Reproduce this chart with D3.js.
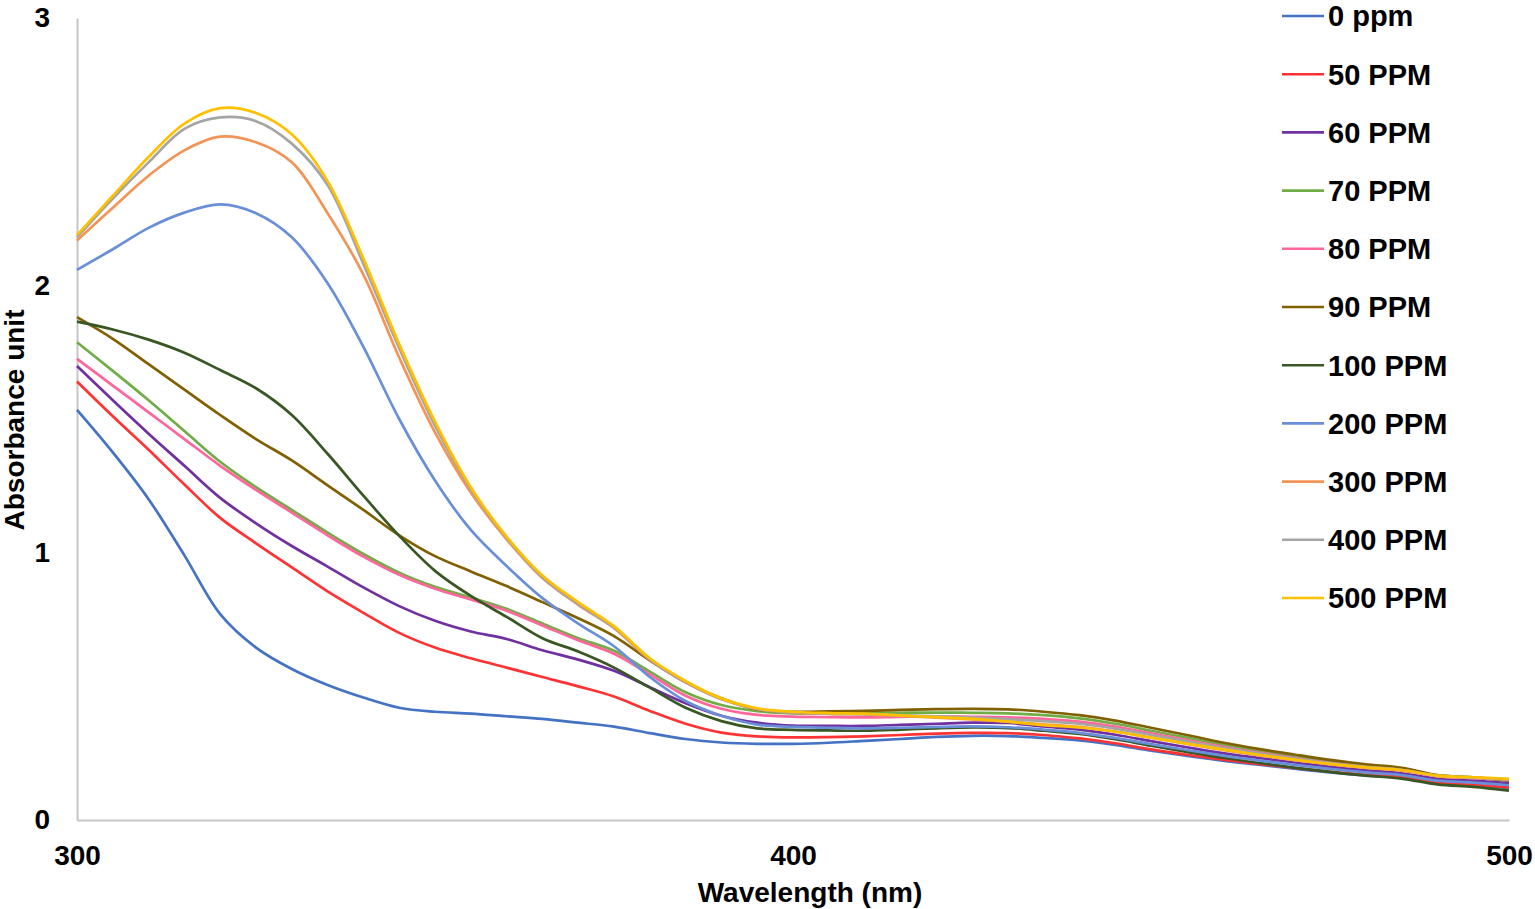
<!DOCTYPE html>
<html>
<head>
<meta charset="utf-8">
<script src="https://cdn.jsdelivr.net/npm/d3@7"></script>
<style>
  body { margin: 0; background: #fff; }
  svg { display: block; font-family: "Liberation Sans", Arial, sans-serif; }
</style>
</head>
<body>
<svg></svg>
<script>
// wavelengths (nm) and absorbance
let wavelengths = [300, 305, 310, 315, 320, 325, 330, 335, 340, 345, 350, 355, 360, 365, 370, 375, 380, 385, 390, 395, 400,
                   405, 410, 415, 420, 425, 430, 435, 440, 445, 450, 455, 460, 465, 470, 475, 480, 485, 490, 495, 500]

let ppm0 = [1.534, 1.375, 1.200, 0.990, 0.770, 0.645, 0.565, 0.505, 0.458, 0.420, 0.405, 0.398, 0.388, 0.378, 0.364, 0.349, 0.325, 0.303, 0.290, 0.285, 0.285,
            0.289, 0.296, 0.303, 0.311, 0.315, 0.314, 0.307, 0.298, 0.281, 0.259, 0.240, 0.222, 0.207, 0.192, 0.178, 0.167, 0.158, 0.138, 0.130, 0.120]
let ppm50 = [1.640, 1.510, 1.385, 1.255, 1.130, 1.035, 0.945, 0.855, 0.775, 0.700, 0.645, 0.605, 0.570, 0.535, 0.500, 0.462, 0.408, 0.360, 0.327, 0.313, 0.309,
             0.310, 0.313, 0.318, 0.323, 0.326, 0.325, 0.318, 0.305, 0.287, 0.264, 0.244, 0.226, 0.210, 0.195, 0.181, 0.169, 0.160, 0.140, 0.132, 0.122]
let ppm60 = [1.698, 1.570, 1.445, 1.325, 1.205, 1.110, 1.025, 0.948, 0.870, 0.800, 0.745, 0.705, 0.677, 0.635, 0.600, 0.558, 0.497, 0.437, 0.390, 0.364, 0.353,
             0.352, 0.352, 0.356, 0.360, 0.364, 0.363, 0.350, 0.338, 0.319, 0.295, 0.272, 0.250, 0.232, 0.215, 0.199, 0.186, 0.175, 0.154, 0.147, 0.138]
let ppm70 = [1.787, 1.680, 1.570, 1.455, 1.340, 1.245, 1.160, 1.075, 0.995, 0.925, 0.872, 0.832, 0.790, 0.735, 0.680, 0.633, 0.555, 0.478, 0.430, 0.407, 0.399,
             0.398, 0.399, 0.401, 0.402, 0.401, 0.399, 0.392, 0.380, 0.360, 0.334, 0.308, 0.282, 0.258, 0.238, 0.219, 0.203, 0.190, 0.166, 0.158, 0.147]
let ppm80 = [1.725, 1.625, 1.525, 1.425, 1.325, 1.235, 1.150, 1.065, 0.985, 0.917, 0.865, 0.825, 0.783, 0.728, 0.672, 0.622, 0.545, 0.465, 0.416, 0.393, 0.387,
             0.385, 0.384, 0.386, 0.387, 0.386, 0.384, 0.378, 0.368, 0.349, 0.324, 0.299, 0.274, 0.252, 0.232, 0.214, 0.199, 0.187, 0.164, 0.157, 0.148]
let ppm90 = [1.881, 1.800, 1.705, 1.610, 1.515, 1.425, 1.345, 1.252, 1.160, 1.065, 0.987, 0.930, 0.875, 0.815, 0.755, 0.688, 0.597, 0.515, 0.455, 0.414, 0.405,
             0.406, 0.408, 0.412, 0.415, 0.416, 0.414, 0.405, 0.392, 0.372, 0.345, 0.318, 0.290, 0.266, 0.245, 0.225, 0.208, 0.195, 0.168, 0.160, 0.148]
let ppm100 = [1.864, 1.835, 1.797, 1.748, 1.683, 1.615, 1.515, 1.370, 1.213, 1.063, 0.932, 0.838, 0.760, 0.680, 0.630, 0.570, 0.495, 0.420, 0.370, 0.343, 0.337,
              0.335, 0.334, 0.338, 0.343, 0.346, 0.344, 0.334, 0.322, 0.302, 0.278, 0.255, 0.233, 0.214, 0.196, 0.180, 0.166, 0.155, 0.133, 0.124, 0.110]
let ppm200 = [2.058, 2.135, 2.215, 2.272, 2.303, 2.270, 2.180, 2.008, 1.770, 1.500, 1.270, 1.085, 0.950, 0.830, 0.735, 0.650, 0.535, 0.445, 0.390, 0.357, 0.348,
              0.345, 0.343, 0.345, 0.348, 0.350, 0.347, 0.338, 0.326, 0.307, 0.284, 0.262, 0.241, 0.223, 0.206, 0.191, 0.178, 0.168, 0.147, 0.140, 0.130]
let ppm300 = [2.168, 2.290, 2.410, 2.505, 2.556, 2.535, 2.460, 2.270, 2.040, 1.730, 1.450, 1.225, 1.050, 0.905, 0.805, 0.718, 0.600, 0.515, 0.452, 0.415, 0.402,
              0.397, 0.395, 0.389, 0.383, 0.376, 0.368, 0.358, 0.348, 0.331, 0.308, 0.285, 0.262, 0.242, 0.224, 0.208, 0.195, 0.185, 0.164, 0.158, 0.152]
let ppm400 = [2.180, 2.325, 2.460, 2.585, 2.628, 2.614, 2.530, 2.375, 2.080, 1.765, 1.475, 1.238, 1.055, 0.908, 0.808, 0.720, 0.602, 0.516, 0.453, 0.416, 0.403,
              0.398, 0.396, 0.392, 0.388, 0.383, 0.377, 0.370, 0.360, 0.342, 0.318, 0.294, 0.270, 0.249, 0.230, 0.213, 0.199, 0.188, 0.166, 0.159, 0.151]
let ppm500 = [2.188, 2.335, 2.480, 2.605, 2.663, 2.645, 2.565, 2.390, 2.100, 1.780, 1.490, 1.245, 1.060, 0.915, 0.815, 0.725, 0.605, 0.520, 0.455, 0.418, 0.405,
              0.400, 0.398, 0.391, 0.385, 0.378, 0.368, 0.355, 0.346, 0.330, 0.308, 0.286, 0.264, 0.244, 0.226, 0.210, 0.197, 0.187, 0.166, 0.160, 0.154]

let seriesNames = ["0 ppm", "50 PPM", "60 PPM", "70 PPM", "80 PPM", "90 PPM", "100 PPM", "200 PPM", "300 PPM", "400 PPM", "500 PPM"]
let seriesValues = [ppm0, ppm50, ppm60, ppm70, ppm80, ppm90, ppm100, ppm200, ppm300, ppm400, ppm500]
let xTicks = [300, 400, 500]
let yTicks = [0, 1, 2, 3]

let colors = ["#4472C4", "#FF3333", "#7030A0", "#70AD47", "#FF6699", "#806000", "#385723", "#6A8FD9", "#F39456", "#A5A5A5", "#FFC000"]

let width = 1535
let height = 909
let plotLeft = 77, plotRight = 1509, plotTop = 18, plotBottom = 820

let svg = d3.select('svg')
    .attr('width', width)
    .attr('height', height)

let x = d3.scaleLinear().domain([300, 500]).range([plotLeft, plotRight])
let y = d3.scaleLinear().domain([0, 3]).range([plotBottom, plotTop])

// axes
svg.append('g')
   .attr('transform', `translate(0,${plotBottom})`)
   .call(d3.axisBottom(x).tickValues(xTicks).tickSize(0).tickPadding(25).tickFormat(d3.format('d')))
svg.append('g')
   .attr('transform', `translate(${plotLeft},0)`)
   .call(d3.axisLeft(y).tickValues(yTicks).tickSize(0).tickPadding(27).tickFormat(d3.format('d')))

svg.selectAll('.domain').attr('stroke', '#C6C6C6').attr('stroke-width', 2)
svg.selectAll('.tick text')
   .attr('fill', '#000')
   .style('font-size', '28px')
   .style('font-weight', 'bold')
   .style('font-family', '"Liberation Sans", Arial, sans-serif')

// lines
let line = d3.line()
    .x((d, i) => x(wavelengths[i]))
    .y(d => y(d))
    .curve(d3.curveCatmullRom.alpha(0.5))

svg.append('g')
   .selectAll('path')
   .data(seriesValues)
   .join('path')
   .attr('d', d => line(d))
   .attr('fill', 'none')
   .attr('stroke', (d, i) => colors[i])
   .attr('stroke-width', 2.7)
   .attr('stroke-linejoin', 'round')

// axis titles
svg.append('text')
   .attr('x', 810)
   .attr('y', 902)
   .attr('text-anchor', 'middle')
   .style('font-size', '28px')
   .style('font-weight', 'bold')
   .text('Wavelength (nm)')

svg.append('text')
   .attr('transform', 'translate(24,420) rotate(-90)')
   .attr('text-anchor', 'middle')
   .style('font-size', '28px')
   .style('font-weight', 'bold')
   .text('Absorbance unit')

// legend
let legend = svg.append('g')
let rows = legend.selectAll('g')
    .data(seriesNames)
    .join('g')
    .attr('transform', (d, i) => `translate(1282,${16 + i * 58.2})`)

rows.append('line')
    .attr('x1', 0).attr('x2', 42)
    .attr('y1', 0).attr('y2', 0)
    .attr('stroke', (d, i) => colors[i])
    .attr('stroke-width', 2.6)

rows.append('text')
    .attr('x', 46)
    .attr('dy', '0.36em')
    .style('font-size', '29px')
    .style('font-weight', 'bold')
    .text(d => d)
</script>
</body>
</html>
